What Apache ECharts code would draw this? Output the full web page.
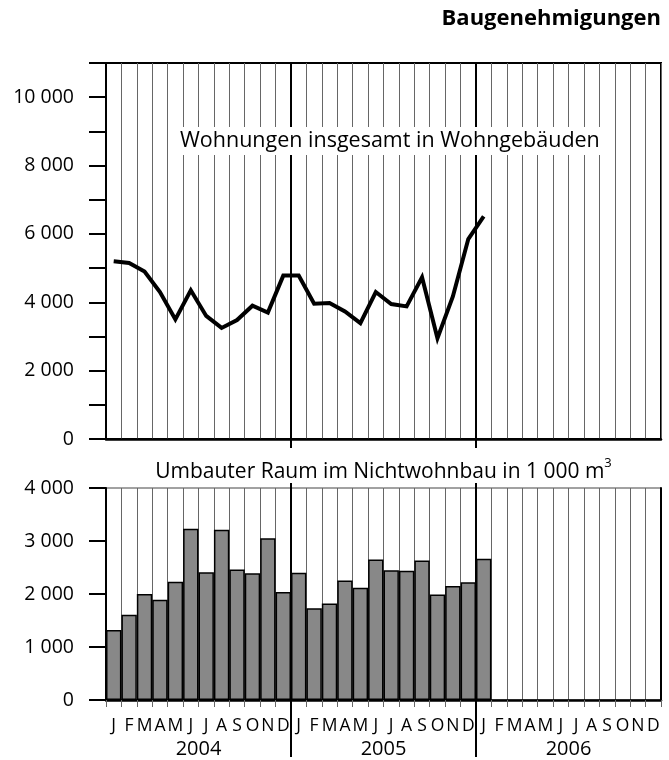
<!DOCTYPE html>
<html>
<head>
<meta charset="utf-8">
<script src="https://cdn.jsdelivr.net/npm/echarts@6/dist/echarts.min.js"></script>
<style>html,body{margin:0;padding:0;background:#fff}#c{width:669px;height:760px}</style>
</head>
<body>
<div id="c"></div>
<script>
const monthLetters = ['J','F','M','A','M','J','J','A','S','O','N','D'];
const years = ['2004','2005','2006'];
const categories = [];
years.forEach(y => monthLetters.forEach((m, i) => categories.push(y + '-' + (i + 1))));

// Wohnungen insgesamt in Wohngebäuden (Jan 2004 – Jan 2006)
const wohnungen = [5200,5150,4900,4300,3500,4350,3600,3250,3480,3900,3700,4780,
                   4780,3960,3980,3730,3390,4300,3950,3880,4730,2950,4170,5850,
                   6510];
// Umbauter Raum im Nichtwohnbau in 1 000 m³ (Jan 2004 – Jan 2006)
const umbauterRaum = [1320,1610,2000,1890,2230,3230,2410,3210,2460,2390,3050,2040,
                      2400,1730,1820,2255,2120,2650,2450,2440,2630,1990,2150,2220,
                      2665];

const topTicks = {min: 0, max: 11000, interval: 1000};
const bottomTicks = {min: 0, max: 4000, interval: 1000};

const FONT = '"Open Sans", "Noto Sans", sans-serif';
const fmt = v => String(v).replace(/\B(?=(\d{3})+(?!\d))/g, ' ');

const chart = echarts.init(document.getElementById('c'));
const gridLine = {show: true, interval: 0, lineStyle: {color: '#666', width: 1}};

chart.setOption({
  animation: false,
  backgroundColor: '#fff',
  title: [
    {text: 'Baugenehmigungen', right: 8, top: 8, padding: 0,
     textStyle: {fontFamily: FONT, fontWeight: 'bold', fontSize: 22, color: '#000'}},
    {text: 'Wohnungen insgesamt in Wohngebäuden', left: 168, top: 127,
     backgroundColor: '#fff', padding: [3, 6, 3, 12],
     textStyle: {fontFamily: FONT, fontWeight: 'normal', fontSize: 21.5, color: '#000'}}
  ],
  grid: [
    {left: 106, right: 8, top: 63, height: 376, show: true, borderColor: '#000', borderWidth: 2},
    {left: 106, right: 8, top: 488, height: 212, show: true, borderColor: '#444', borderWidth: 1}
  ],
  xAxis: [
    {gridIndex: 0, type: 'category', data: categories, boundaryGap: true,
     axisLine: {lineStyle: {color: '#000', width: 2.5}}, axisTick: {show: false},
     axisLabel: {show: false}, splitLine: gridLine},
    {gridIndex: 1, type: 'category', data: categories, boundaryGap: true, position: 'bottom',
     axisLine: {lineStyle: {color: '#000', width: 2.5}},
     axisTick: {show: true, interval: 0, length: 7, lineStyle: {color: '#666', width: 1}},
     axisLabel: {interval: 0, margin: 17, fontFamily: FONT, fontSize: 17.5, color: '#000',
                 formatter: (v, i) => monthLetters[i % 12]},
     splitLine: gridLine},
    {gridIndex: 1, type: 'category', data: years, boundaryGap: true, position: 'bottom',
     axisLine: {show: false}, axisTick: {show: false}, splitLine: {show: false},
     axisLabel: {margin: 39, fontFamily: FONT, fontSize: 20, color: '#000'}}
  ],
  yAxis: [
    {gridIndex: 0, type: 'value', min: topTicks.min, max: topTicks.max, interval: topTicks.interval,
     axisLine: {show: true, lineStyle: {color: '#000', width: 2}},
     axisTick: {show: true, length: 17, lineStyle: {color: '#000', width: 2}},
     splitLine: {show: false},
     axisLabel: {margin: 32, fontFamily: FONT, fontSize: 19.5, color: '#000', padding: [0, 0, 8, 0],
                 formatter: v => (v % 2000 === 0 && v <= 10000) ? fmt(v) : ''}},
    {gridIndex: 1, type: 'value', min: bottomTicks.min, max: bottomTicks.max, interval: bottomTicks.interval,
     axisLine: {show: true, lineStyle: {color: '#000', width: 2}},
     axisTick: {show: true, length: 17, lineStyle: {color: '#000', width: 2}},
     splitLine: {show: false},
     axisLabel: {margin: 32, fontFamily: FONT, fontSize: 19.5, color: '#000', padding: [0, 0, 4, 0],
                 formatter: v => fmt(v)}},
    {gridIndex: 1, type: 'value', position: 'right', min: bottomTicks.min, max: bottomTicks.max,
     axisLine: {show: true, lineStyle: {color: '#000', width: 2}},
     axisTick: {show: false}, axisLabel: {show: false}, splitLine: {show: false}}
  ],
  series: [
    {type: 'line', xAxisIndex: 0, yAxisIndex: 0, data: wohnungen, showSymbol: false, symbol: 'none',
     lineStyle: {color: '#000', width: 4, join: 'miter'}, z: 5},
    {type: 'bar', xAxisIndex: 1, yAxisIndex: 1, data: umbauterRaum, barCategoryGap: '0%',
     itemStyle: {color: '#888', borderColor: '#000', borderWidth: 1.5}}
  ]
});

function boundaryX(axisIndex, i) {
  const a = chart.convertToPixel({xAxisIndex: axisIndex}, i - 1);
  const b = chart.convertToPixel({xAxisIndex: axisIndex}, i);
  return (a + b) / 2;
}
const topY0 = chart.convertToPixel({yAxisIndex: 0}, topTicks.max);
const topY1 = chart.convertToPixel({yAxisIndex: 0}, topTicks.min);
const botY0 = chart.convertToPixel({yAxisIndex: 1}, bottomTicks.max);
const botY1 = chart.convertToPixel({yAxisIndex: 1}, bottomTicks.min);
const gridCenterX = (chart.convertToPixel({xAxisIndex: 1}, 0) +
                     chart.convertToPixel({xAxisIndex: 1}, categories.length - 1)) / 2;
const graphics = [];
[12, 24].forEach(i => {
  const x1 = boundaryX(0, i), x2 = boundaryX(1, i);
  graphics.push({type: 'line', z: 3, shape: {x1: x1, y1: topY0, x2: x1, y2: topY1 + 9},
                 style: {stroke: '#000', lineWidth: 2}});
  graphics.push({type: 'line', z: 10, shape: {x1: x2, y1: botY0 - 5, x2: x2, y2: botY1 + 57},
                 style: {stroke: '#000', lineWidth: 2}});
});
graphics.push({type: 'text', z: 10, x: gridCenterX, y: botY0 - 18,
  style: {text: '{a|Umbauter Raum im Nichtwohnbau in 1 000 m}{s|3}', align: 'center', verticalAlign: 'middle',
    rich: {
      a: {fontFamily: FONT, fontSize: 21, fill: '#000', lineHeight: 26, verticalAlign: 'bottom'},
      s: {fontFamily: FONT, fontSize: 13, fill: '#000', lineHeight: 26, verticalAlign: 'top'}
    }}});
chart.setOption({graphic: graphics});
</script>
</body>
</html>
